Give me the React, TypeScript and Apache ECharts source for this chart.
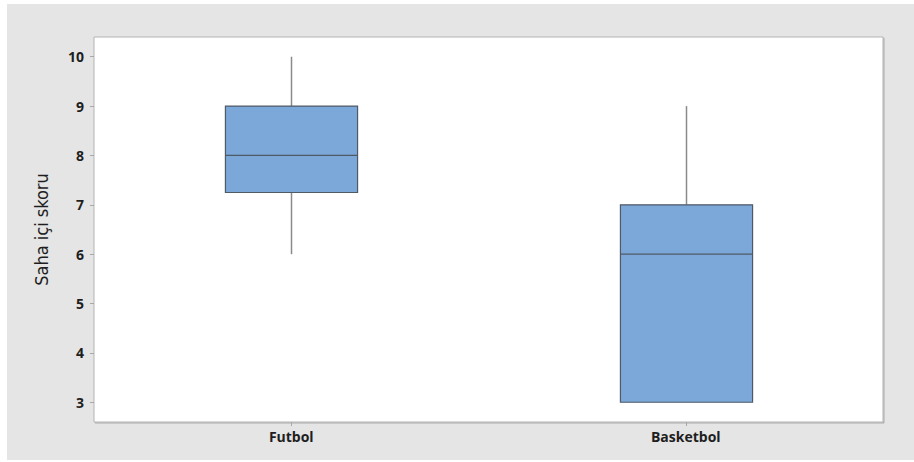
import React, { useEffect, useRef } from "react";
import * as echarts from "echarts";

// Sports and their five-number summaries (min, Q1, median, Q3, max)
const categories = ["Futbol", "Basketbol"];
const minValues = [6, 3];
const q1Values = [7.25, 3];
const medianValues = [8, 6];
const q3Values = [9, 7];
const maxValues = [10, 9];
const yTickValues = [3, 4, 5, 6, 7, 8, 9, 10];

export default function App() {
  const ref = useRef<HTMLDivElement>(null);

  useEffect(() => {
    if (!ref.current) return;
    const chart = echarts.init(ref.current, undefined, { renderer: "svg" });

    const rows = categories.map((_, i) => [
      i,
      minValues[i],
      q1Values[i],
      medianValues[i],
      q3Values[i],
      maxValues[i],
    ]);

    const renderItem = (params: any, api: any) => {
      const idx = api.value(0);
      const pMin = api.coord([idx, api.value(1)]);
      const pQ1 = api.coord([idx, api.value(2)]);
      const pMed = api.coord([idx, api.value(3)]);
      const pQ3 = api.coord([idx, api.value(4)]);
      const pMax = api.coord([idx, api.value(5)]);
      const band = api.size([1, 0])[0];
      const half = (band * 0.335) / 2;
      const cx = Math.round(pMed[0]) + 0.5;
      const whiskerStyle = { stroke: "#8a8a8a", lineWidth: 1.5 };
      const boxStroke = "#505a66";
      return {
        type: "group",
        children: [
          {
            type: "line",
            shape: { x1: cx, y1: pQ3[1], x2: cx, y2: pMax[1] },
            style: whiskerStyle,
          },
          {
            type: "line",
            shape: { x1: cx, y1: pMin[1], x2: cx, y2: pQ1[1] },
            style: whiskerStyle,
          },
          {
            type: "rect",
            shape: {
              x: cx - half,
              y: pQ3[1],
              width: half * 2,
              height: pQ1[1] - pQ3[1],
            },
            style: { fill: "#7ba7d9", stroke: boxStroke, lineWidth: 1.2 },
          },
          {
            type: "line",
            shape: { x1: cx - half, y1: pMed[1], x2: cx + half, y2: pMed[1] },
            style: { stroke: boxStroke, lineWidth: 1.2 },
          },
        ],
      };
    };

    chart.setOption({
      animation: false,
      backgroundColor: "#ffffff",
      graphic: [
        {
          type: "rect",
          z: -10,
          silent: true,
          shape: { x: 7, y: 4, width: 907, height: 456 },
          style: { fill: "#e5e5e5" },
        },
      ],
      grid: {
        left: 94,
        top: 37,
        right: 31,
        bottom: 40,
        show: true,
        backgroundColor: "#ffffff",
        borderColor: "#b3b3b3",
        borderWidth: 1,
        shadowColor: "rgba(0,0,0,0.25)",
        shadowBlur: 1,
        shadowOffsetX: 1,
        shadowOffsetY: 1,
      },
      xAxis: {
        type: "category",
        data: categories,
        boundaryGap: true,
        axisLine: { show: false },
        axisTick: {
          show: true,
          alignWithLabel: true,
          length: 4,
          lineStyle: { color: "#a8a8a8" },
        },
        axisLabel: {
          margin: 7,
          color: "#1e1e1e",
          fontSize: 14,
          fontWeight: "bold",
          fontFamily: "Open Sans",
        },
        splitLine: { show: false },
      },
      yAxis: {
        type: "value",
        min: 2.6,
        max: 10.4,
        name: "Saha içi skoru",
        nameLocation: "middle",
        nameGap: 44,
        nameTextStyle: {
          fontSize: 18,
          color: "#1e1e1e",
          fontFamily: "DejaVu Sans Condensed, Noto Sans, sans-serif",
        },
        axisLine: { show: false },
        axisTick: {
          show: true,
          length: 4,
          customValues: yTickValues,
          lineStyle: { color: "#a8a8a8" },
        },
        axisLabel: {
          customValues: yTickValues,
          margin: 10,
          color: "#1e1e1e",
          fontSize: 14,
          fontWeight: "bold",
          fontFamily: "Open Sans",
        },
        splitLine: { show: false },
      },
      series: [
        {
          type: "custom",
          renderItem,
          data: rows,
          encode: { x: 0, y: [1, 2, 3, 4, 5] },
          clip: false,
        },
      ],
    });

    return () => chart.dispose();
  }, []);

  return (
    <div
      ref={ref}
      style={{ position: "absolute", left: 0, top: 0, width: 914, height: 462 }}
    />
  );
}
